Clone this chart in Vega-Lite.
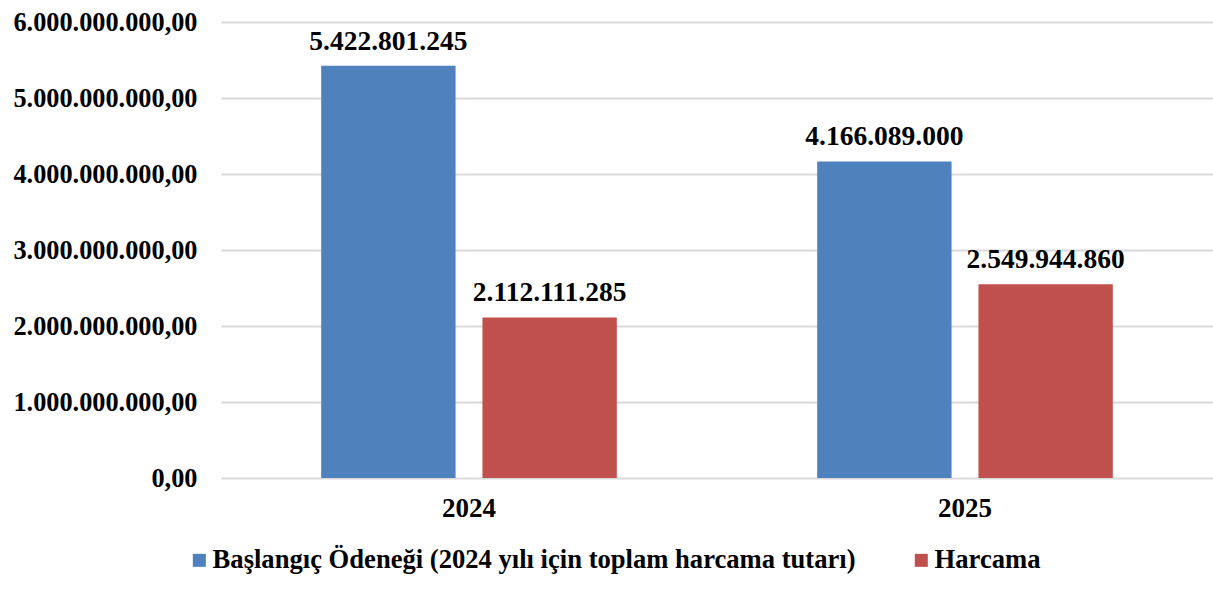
{
  "$schema": "https://vega.github.io/schema/vega-lite/v6.json",
  "width": 992,
  "height": 456,
  "autosize": {"type": "none"},
  "padding": {"left": 221, "top": 22, "right": 0, "bottom": 120},
  "background": "white",
  "config": {
    "locale": {"number": {"decimal": ",", "thousands": ".", "grouping": [3], "currency": ["", ""]}},
    "view": {"stroke": null},
    "font": "Liberation Serif"
  },
  "data": {
    "values": [
      {"yil": "2024", "seri": "Başlangıç Ödeneği (2024 yılı için toplam harcama tutarı)", "deger": 5422801245},
      {"yil": "2024", "seri": "Harcama", "deger": 2112111285},
      {"yil": "2025", "seri": "Başlangıç Ödeneği (2024 yılı için toplam harcama tutarı)", "deger": 4166089000},
      {"yil": "2025", "seri": "Harcama", "deger": 2549944860}
    ]
  },
  "encoding": {
    "x": {
      "field": "yil", "type": "nominal",
      "scale": {"paddingInner": 0.404, "paddingOuter": 0.202},
      "axis": {"title": null, "labelAngle": 0, "labelFontSize": 27, "labelFontWeight": "bold", "labelColor": "black", "ticks": false, "domain": false, "labelPadding": 17}
    },
    "xOffset": {
      "field": "seri", "type": "nominal",
      "scale": {"domain": ["Başlangıç Ödeneği (2024 yılı için toplam harcama tutarı)", "Harcama"], "paddingInner": 0.1667}
    },
    "y": {
      "field": "deger", "type": "quantitative",
      "scale": {"domain": [0, 6000000000]},
      "axis": {"title": null, "values": [0, 1000000000, 2000000000, 3000000000, 4000000000, 5000000000, 6000000000], "format": ",.2f", "labelFontSize": 26.3, "labelFontWeight": "bold", "labelColor": "black", "labelLimit": 400, "ticks": false, "domain": false, "labelPadding": 24, "grid": true, "gridColor": "#d9d9d9", "gridWidth": 2}
    }
  },
  "layer": [
    {
      "mark": {"type": "bar"},
      "encoding": {
        "color": {
          "field": "seri", "type": "nominal",
          "scale": {"domain": ["Başlangıç Ödeneği (2024 yılı için toplam harcama tutarı)", "Harcama"], "range": ["#4F81BD", "#C0504D"]},
          "legend": {"title": null, "orient": "none", "legendX": -35, "legendY": 525, "direction": "horizontal", "columns": 2, "symbolType": "square", "symbolSize": 169, "symbolStrokeWidth": 0, "labelFontSize": 26.6, "labelFontWeight": "bold", "labelColor": "black", "labelLimit": 1000, "labelOffset": 0, "columnPadding": 52}
        }
      }
    },
    {
      "mark": {"type": "text", "fontSize": 27.5, "fontWeight": "bold", "color": "black", "baseline": "alphabetic", "dy": -16},
      "encoding": {
        "text": {"field": "deger", "type": "quantitative", "format": ",d"}
      }
    }
  ]
}
